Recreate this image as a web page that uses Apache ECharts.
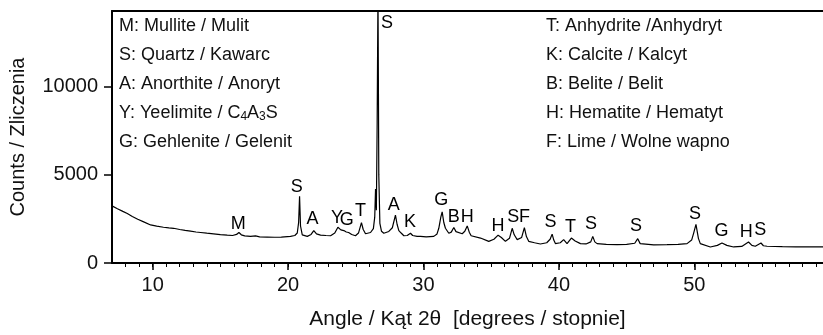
<!DOCTYPE html>
<html>
<head>
<meta charset="utf-8">
<script src="https://cdn.jsdelivr.net/npm/echarts@6/dist/echarts.min.js"></script>
<style>
  html, body { margin: 0; padding: 0; background: #fff; }
  #chart { width: 823px; height: 335px; }
</style>
</head>
<body>
<div id="chart"></div>
<script>
// Diffraction pattern: 2θ angle and counts
const angles = [
  7.0, 7.4, 7.8, 8.13, 8.5, 8.9, 9.3, 9.85, 10.3, 10.8, 11.2, 11.55, 12.0, 12.4, 12.8, 13.2,
  13.54, 14.0, 14.5, 15.0, 15.51, 15.9, 16.2, 16.37, 16.55, 16.8, 17.23, 17.6, 17.9, 18.46,
  19.0, 19.5, 20.18, 20.5, 20.68, 20.78, 20.85, 20.92, 21.05, 21.42, 21.7, 21.9, 22.1, 22.4,
  22.8, 23.14, 23.45, 23.68, 23.9, 24.12, 24.3, 24.47, 24.7, 24.98, 25.2, 25.42, 25.55, 25.72,
  26.09, 26.3, 26.4, 26.46, 26.52, 26.58, 26.64, 26.7, 26.78, 26.9, 27.07, 27.44, 27.7, 27.93,
  28.05, 28.18, 28.35, 28.55, 28.8, 29.04, 29.2, 29.53, 29.78, 30.2, 30.76, 31.0, 31.13, 31.28,
  31.38, 31.5, 31.62, 31.87, 32.05, 32.24, 32.4, 32.53, 32.86, 33.05, 33.23, 33.38, 33.52, 34.21,
  34.82, 35.2, 35.51, 35.75, 36.05, 36.35, 36.55, 36.7, 36.92, 37.25, 37.45, 37.6, 37.77, 38.2,
  38.63, 39.1, 39.35, 39.5, 39.62, 39.74, 40.1, 40.35, 40.6, 40.92, 41.2, 41.59, 42.0, 42.35,
  42.5, 42.65, 42.82, 43.5, 44.3, 45.0, 45.6, 45.82, 46.0, 46.14, 47.0, 47.99, 48.8, 49.46,
  49.8, 49.95, 50.12, 50.3, 50.44, 51.18, 51.7, 52.04, 52.4, 52.9, 53.5, 54.0, 54.25, 54.5,
  54.92, 55.1, 55.37, 56.5, 57.5, 58.5, 59.5
];
const counts = [
  3240, 3080, 2930, 2810, 2640, 2480, 2350, 2160, 2090, 2030, 1990, 1970, 1900, 1850, 1810, 1760,
  1730, 1690, 1650, 1610, 1580, 1560, 1620, 1730, 1600, 1540, 1510, 1540, 1480, 1470,
  1460, 1470, 1510, 1560, 1700, 2300, 3780, 2100, 1600, 1510, 1620, 1840, 1650, 1580,
  1560, 1545, 1700, 2030, 1880, 1840, 1760, 1730, 1620, 1545, 1700, 2290, 1900, 1660,
  1730, 1950, 2600, 4200, 3000, 8000, 15500, 5000, 2250, 1800, 1690, 1790, 2000, 2720,
  2200, 1840, 1700, 1545, 1560, 1690, 1560, 1510, 1510, 1480, 1510, 1650, 1970, 2600,
  2905, 2300, 1970, 1690, 1750, 2010, 1780, 1690, 1660, 1800, 2105, 1750, 1545, 1415,
  1230, 1350, 1580, 1450, 1230, 1400, 1970, 1600, 1325, 1450, 2010, 1500, 1230, 1150,
  1080, 1150, 1350, 1640, 1300, 1100, 1150, 1325, 1100, 1415, 1250, 1100, 1080, 1200,
  1510, 1200, 1100, 1060, 1040, 1060, 1120, 1380, 1100, 990, 1030, 1040, 1060, 1100,
  1300, 1700, 2195, 1400, 1100, 910, 1000, 1135, 1000, 910, 940, 1190, 1000, 950,
  1135, 980, 950, 930, 920, 910, 910
];

// Phase letters over the peaks (angle, counts where the letter sits)
const peakTags = ['M', 'S', 'A', 'Y', 'G', 'T', 'S', 'A', 'K', 'G', 'B', 'H', 'H', 'S', 'F',
  'S', 'T', 'S', 'S', 'S', 'G', 'H', 'S'];
const peakTagAngle = [16.33, 20.65, 21.8, 23.62, 24.34, 25.34, 27.3, 27.81, 29.01, 31.31, 32.24,
  33.23, 35.51, 36.62, 37.45, 39.37, 40.85, 42.37, 45.7, 50.04, 52.0, 53.84, 54.87];
const peakTagCount = [2235, 4337, 2480, 2570, 2440, 2940, 13620, 3280, 2345, 3560, 2610,
  2610, 2085, 2610, 2610, 2345, 2060, 2190, 2090, 2755, 1790, 1730, 1845];

// key to the letters, two columns
const keyLeft = [
  'M: Mullite / Mulit',
  'S: Quartz / Kawarc',
  'A: Anorthite / Anoryt',
  '{t|Y: Yeelimite / C}{s|4}{t|A}{s|3}{t|S}',
  'G: Gehlenite / Gelenit'
];
const keyRight = [
  'T: Anhydrite /Anhydryt',
  'K: Calcite / Kalcyt',
  'B: Belite / Belit',
  'H: Hematite / Hematyt',
  'F: Lime / Wolne wapno'
];

const xTicks = [10, 20, 30, 40, 50];
const yTicks = [0, 5000, 10000];
const xMin = 7, xMax = 59.5;
const yMax = 14300;

const FONT = '"Liberation Sans", Arial, sans-serif';

const minorTicks = [];
for (let v = 8; v <= 59; v++) minorTicks.push(v);

const line = angles.map((a, i) => [a, counts[i]]);
const tags = peakTags.map((t, i) => [peakTagAngle[i], peakTagCount[i], t]);

const keyText = (s, x, y) => ({
  type: 'text',
  left: x,
  top: y,
  style: {
    text: s,
    fill: '#111',
    font: '18px ' + FONT,
    rich: {
      t: { fontSize: 18, fontFamily: FONT, fill: '#111' },
      s: { fontSize: 12, fontFamily: FONT, fill: '#111', padding: [8, 0, 0, 0] }
    }
  }
});

const chart = echarts.init(document.getElementById('chart'));

chart.setOption({
  animation: false,
  textStyle: { fontFamily: FONT, color: '#111' },
  grid: { left: 111, right: 0, top: 11, bottom: 68 },
  xAxis: [
    {
      type: 'value', min: xMin, max: xMax, position: 'bottom',
      axisLine: { onZero: false, lineStyle: { color: '#000', width: 2 } },
      axisTick: { customValues: minorTicks, length: 4, lineStyle: { color: '#000', width: 1 } },
      axisLabel: { show: false },
      splitLine: { show: false },
      name: 'Angle / Kąt 2θ  [degrees / stopnie]',
      nameLocation: 'middle',
      nameGap: 46,
      nameTextStyle: { fontSize: 21, color: '#111', fontFamily: FONT }
    },
    {
      type: 'value', min: xMin, max: xMax, position: 'bottom',
      axisLine: { show: false, onZero: false },
      axisTick: { customValues: xTicks, length: 7, lineStyle: { color: '#000', width: 1.5 } },
      axisLabel: { customValues: xTicks, fontSize: 20, color: '#111', margin: 12, formatter: v => String(v) },
      splitLine: { show: false }
    },
    {
      type: 'value', min: xMin, max: xMax, position: 'top',
      axisLine: { onZero: false, lineStyle: { color: '#000', width: 2 } },
      axisTick: { show: false },
      axisLabel: { show: false },
      splitLine: { show: false }
    }
  ],
  yAxis: {
    type: 'value', min: 0, max: yMax,
    axisLine: { show: true, onZero: false, lineStyle: { color: '#000', width: 2 } },
    axisTick: { show: true, customValues: yTicks, length: 8, lineStyle: { color: '#000', width: 1.5 } },
    axisLabel: { customValues: yTicks, fontSize: 20, color: '#111', margin: 14, formatter: v => String(v) },
    splitLine: { show: false },
    name: 'Counts / Zliczenia',
    nameLocation: 'middle',
    nameGap: 84,
    nameTextStyle: { fontSize: 20, color: '#111', fontFamily: FONT }
  },
  series: [
    {
      type: 'line',
      data: line,
      symbol: 'none',
      clip: true,
      lineStyle: { color: '#000', width: 1.2 }
    },
    {
      type: 'scatter',
      data: tags,
      symbolSize: 0,
      silent: true,
      itemStyle: { opacity: 1, color: '#000' },
      label: {
        show: true,
        position: 'inside',
        formatter: p => p.value[2],
        fontSize: 18,
        color: '#000',
        textBorderWidth: 0,
        fontFamily: FONT
      }
    }
  ],
  graphic: [
    ...keyLeft.map((s, i) => keyText(s, 119, 17 + 29 * i)),
    ...keyRight.map((s, i) => keyText(s, 546, 17 + 29 * i))
  ]
});
</script>
</body>
</html>
